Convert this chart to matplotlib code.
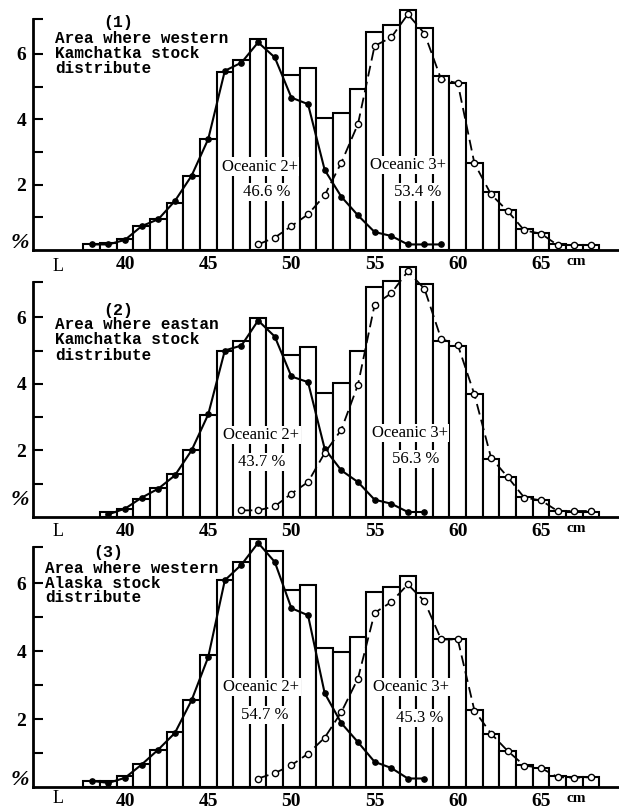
import matplotlib.pyplot as plt

# body length classes (cm), one bar per class
lengths = list(range(38, 69))
lengths_2 = list(range(39, 69))

# (1) western Kamchatka area
bars_1 = [0.17, 0.2, 0.33, 0.73, 0.94, 1.45, 2.27, 3.39, 5.45, 5.8, 6.45, 6.19,
          5.35, 5.56, 4.05, 4.18, 4.92, 6.68, 6.88, 7.34, 6.78, 5.31, 5.12, 2.65,
          1.76, 1.22, 0.63, 0.53, 0.17, 0.14, 0.14]
age2_x_1 = list(range(38, 60))
age2_1 = [0.17, 0.17, 0.31, 0.73, 0.94, 1.5, 2.27, 3.39, 5.48, 5.73, 6.35, 5.89,
          4.66, 4.46, 2.45, 1.63, 1.06, 0.55, 0.43, 0.17, 0.17, 0.17]
age3_x_1 = list(range(48, 69))
age3_1 = [0.17, 0.38, 0.73, 1.09, 1.67, 2.67, 3.85, 6.24, 6.5, 7.21, 6.62, 5.22,
          5.1, 2.65, 1.7, 1.19, 0.6, 0.5, 0.15, 0.15, 0.15]

# (2) eastern Kamchatka area
bars_2 = [0.15, 0.25, 0.55, 0.87, 1.3, 2.02, 3.05, 5.0, 5.3, 5.98, 5.68, 4.85,
          5.12, 3.72, 4.02, 5.0, 6.9, 7.1, 7.52, 7.0, 5.3, 5.15, 3.68, 1.75,
          1.2, 0.6, 0.5, 0.18, 0.15, 0.15]
age2_x_2 = list(range(39, 59))
age2_2 = [0.08, 0.25, 0.58, 0.85, 1.25, 2.0, 3.08, 5.0, 5.15, 5.9, 5.42, 4.22,
          4.05, 2.05, 1.4, 1.05, 0.52, 0.4, 0.15, 0.15]
age3_x_2 = list(range(47, 69))
age3_2 = [0.2, 0.2, 0.32, 0.7, 1.05, 1.92, 2.62, 3.97, 6.37, 6.72, 7.38, 6.85,
          5.35, 5.17, 3.68, 1.78, 1.2, 0.58, 0.5, 0.18, 0.18, 0.18]

# (3) western Alaska area
bars_3 = [0.18, 0.18, 0.32, 0.69, 1.1, 1.62, 2.55, 3.87, 6.1, 6.62, 7.3, 6.94,
          5.8, 5.93, 4.1, 3.97, 4.41, 5.75, 5.88, 6.2, 5.72, 4.36, 4.36, 2.27,
          1.57, 1.05, 0.64, 0.56, 0.31, 0.29, 0.29]
age2_x_3 = list(range(38, 59))
age2_3 = [0.18, 0.12, 0.27, 0.66, 1.1, 1.59, 2.55, 3.82, 6.08, 6.54, 7.18, 6.62,
          5.26, 5.05, 2.76, 1.88, 1.32, 0.74, 0.56, 0.25, 0.25]
age3_x_3 = list(range(48, 69))
age3_3 = [0.25, 0.41, 0.64, 0.98, 1.45, 2.2, 3.19, 5.12, 5.44, 5.96, 5.46, 4.34,
          4.34, 2.25, 1.57, 1.06, 0.63, 0.56, 0.29, 0.27, 0.29]

titles = ['(1)', '(2)', '(3)']
areas = [['Area where western', 'Kamchatka stock', 'distribute'],
         ['Area where eastan', 'Kamchatka stock', 'distribute'],
         ['Area where western', 'Alaska stock', 'distribute']]
share_2 = ['46.6 %', '43.7 %', '54.7 %']
share_3 = ['53.4 %', '56.3 %', '45.3 %']
xticks = [40, 45, 50, 55, 60, 65]

SERIF = 'Liberation Serif'
MONO = 'Liberation Mono'

fig = plt.figure(figsize=(6.19, 8.08), dpi=100)

# pixel layout: baseline y, px per % unit
baselines = [250, 517, 787]
units = [32.7, 33.3, 34.0]
ytop = 7.6

panels = [
    (lengths, bars_1, age2_x_1, age2_1, age3_x_1, age3_1),
    (lengths_2, bars_2, age2_x_2, age2_2, age3_x_2, age3_2),
    (lengths, bars_3, age2_x_3, age2_3, age3_x_3, age3_3),
]
# text positions (data units) per panel
title_pos = [(39.6, 6.95), (39.6, 6.2), (39.0, 6.9)]
area_x = [35.8, 35.8, 35.2]
area_y = [[6.48, 6.02, 5.54], [5.77, 5.32, 4.86], [6.44, 6.0, 5.56]]
ocean2_pos = [(48.1, 2.55, 48.5, 1.77), (48.2, 2.46, 48.2, 1.65), (48.2, 2.94, 48.4, 2.12)]
ocean3_pos = [(57.0, 2.6, 57.6, 1.77), (57.1, 2.52, 57.5, 1.74), (57.2, 2.94, 57.7, 2.03)]
pct_y = [0.22, 0.5, 0.22]
L_y = [-0.5, -0.45, -0.33]

for i, (bx, bh, x2, y2, x3, y3) in enumerate(panels):
    h = ytop * units[i]
    ax = fig.add_axes([33 / 619, (808 - baselines[i]) / 808, 586 / 619, h / 808])
    ax.patch.set_visible(False)
    ax.set_xlim(34.47, 69.69)
    ax.set_ylim(0, ytop)

    ax.bar(bx, bh, width=1.0, facecolor='white', edgecolor='black',
           linewidth=1.5, zorder=2)
    ax.plot(x2, y2, '-', color='black', lw=1.5, marker='o', ms=3.8,
            mfc='black', mec='black', zorder=5, clip_on=False)
    ax.plot(x3, y3, '--', color='black', lw=1.3, dashes=(6, 3), marker='o',
            ms=4.5, mfc='white', mec='black', mew=1.0, zorder=5, clip_on=False)

    for s in ['top', 'right']:
        ax.spines[s].set_visible(False)
    ax.spines['left'].set_bounds(0, 7.05)
    ax.spines['left'].set_linewidth(2)
    ax.spines['bottom'].set_linewidth(2)

    ax.set_yticks([1, 2, 3, 4, 5, 6, 7.05])
    ax.set_yticklabels(['', '2', '', '4', '', '6', ''])
    ax.tick_params(axis='y', direction='in', length=7, width=1.5, pad=5,
                   labelsize=14)
    ax.set_xticks(xticks)
    ax.set_xticklabels([str(t) for t in xticks])
    ax.tick_params(axis='x', length=0, pad=4, labelsize=14)
    for lab in ax.get_xticklabels() + ax.get_yticklabels():
        lab.set_fontfamily(SERIF)
        lab.set_fontweight('bold')

    ax.text(35.97, L_y[i], 'L', ha='center', va='center', fontsize=13,
            family=SERIF, clip_on=False)
    ax.text(67.1, -0.35, 'cm', ha='center', va='center', fontsize=11,
            family=SERIF, fontweight='bold', clip_on=False)
    ax.text(33.7, pct_y[i], '%', ha='center', va='center', fontsize=16,
            family=SERIF, style='italic', fontweight='bold', clip_on=False)

    ax.text(title_pos[i][0], title_pos[i][1], titles[i], ha='center',
            va='center', fontsize=12, family=MONO, fontweight='bold')
    for line, yy in zip(areas[i], area_y[i]):
        ax.text(area_x[i], yy, line, ha='left', va='center', fontsize=11.5,
                family=MONO, fontweight='bold', zorder=6)

    box = dict(facecolor='white', edgecolor='none', pad=1.0)
    ax.text(ocean2_pos[i][0], ocean2_pos[i][1], 'Oceanic 2+', ha='center',
            va='center', fontsize=12, family=SERIF, bbox=box, zorder=3)
    ax.text(ocean2_pos[i][2], ocean2_pos[i][3], share_2[i], ha='center',
            va='center', fontsize=12, family=SERIF, bbox=box, zorder=3)
    ax.text(ocean3_pos[i][0], ocean3_pos[i][1], 'Oceanic 3+', ha='center',
            va='center', fontsize=12, family=SERIF, bbox=box, zorder=3)
    ax.text(ocean3_pos[i][2], ocean3_pos[i][3], share_3[i], ha='center',
            va='center', fontsize=12, family=SERIF, bbox=box, zorder=3)

fig.savefig('out.png', dpi=100)
